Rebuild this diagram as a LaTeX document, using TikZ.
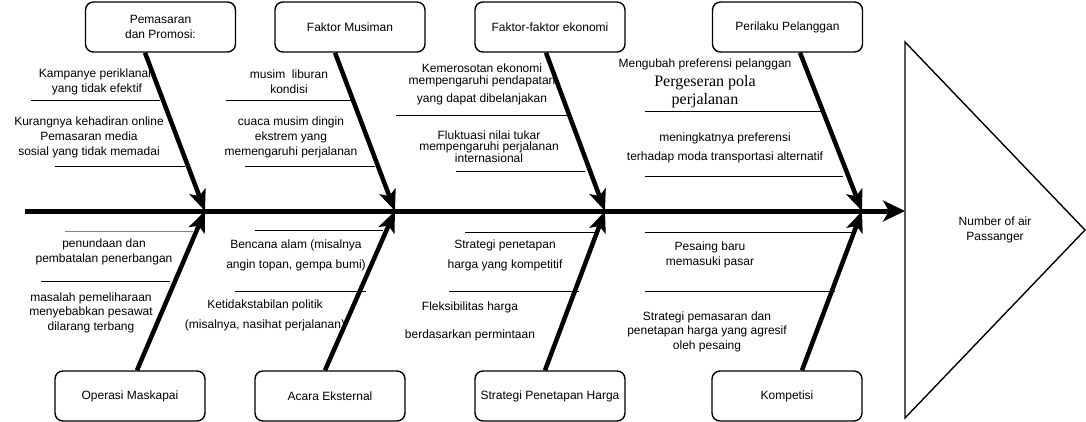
\documentclass[tikz,border=0pt]{standalone}
\usepackage{fontspec}
\setmainfont{Liberation Sans}
\newfontfamily\polafont{Liberation Serif}
\usetikzlibrary{arrows.meta}

\begin{document}
\begin{tikzpicture}[x=1pt,y=-1pt,
   font=\fontsize{12}{15}\selectfont,
   cause/.style={draw,line width=1.4pt,rounded corners=8pt,minimum width=150pt,minimum height=50pt,align=center,inner sep=2pt},
   bone/.style={line width=4.5pt,-{Stealth[length=21pt,width=17pt,inset=5pt]}},
   rib/.style={line width=0.8pt},
   note/.style={align=center,inner sep=0pt}]
   \useasboundingbox (0,0) rectangle (1086,422);

   % head of the fish
   \draw[line width=1.4pt] (905,42) -- (1085,230) -- (905,418) -- cycle;
   \node[note] (effect) at (995,230) {Number of air\\Passanger};
   \coordinate (tail) at (25,211);
   \coordinate (head) at (905,211);
   \draw[line width=5pt,-{Stealth[length=22pt,width=21pt,inset=6pt]}] (tail) -- (head);
   \foreach \n/\x in {1/205,2/395,3/605,4/862}
     \coordinate (t\n) at (\x,211);

   % causes above the spine
   \begin{scope}
     \node[cause] (pemasaran) at (160.5,27) {Pemasaran\\dan Promosi:};
     \node[cause] (musiman) at (350,27) {Faktor Musiman};
     \node[cause] (ekonomi) at (550,27) {Faktor-faktor ekonomi};
     \node[cause] (perilaku) at (787.5,27) {Perilaku Pelanggan};
     \draw[bone] ([xshift=-15.5pt]pemasaran.south) -- (t1);
     \draw[bone] ([xshift=-15pt]musiman.south) -- (t2);
     \draw[bone] ([xshift=-4pt]ekonomi.south) -- (t3);
     \draw[bone] ([xshift=12.5pt]perilaku.south) -- (t4);

     \draw[rib] (31,100) -- (160,100);
     \draw[rib] (55,166) -- (185,166);
     \node[note] (kampanye) at (97,81.5) {Kampanye periklanan\\yang tidak efektif};
     \node[note] (online) at (89,137) {Kurangnya kehadiran online\\Pemasaran media\\sosial yang tidak memadai};

     \draw[rib] (226,100) -- (352,100);
     \draw[rib] (245,166) -- (375,166);
     \node[note] (liburan) at (289,81.5) {musim\ \ liburan\\kondisi};
     \node[note] (cuaca) at (291,137) {cuaca musim dingin\\ekstrem yang\\memengaruhi perjalanan};

     \draw[rib] (396,115) -- (567,115);
     \draw[rib] (456,171) -- (585,171);
     \node[note,font=\fontsize{12}{12}\selectfont] (kemerosotan) at (482,84) {Kemerosotan ekonomi\\mempengaruhi pendapatan\\[6pt]yang dapat dibelanjakan};
     \node[note,font=\fontsize{12}{11}\selectfont] (kurs) at (489,147) {Fluktuasi nilai tukar\\mempengaruhi perjalanan\\internasional};

     \draw[rib] (645,111) -- (822,111);
     \draw[rib] (645,176) -- (843,176);
     \node[note] (preferensi) at (705,64) {Mengubah preferensi pelanggan};
     \node[note,font=\polafont\fontsize{16}{18}\selectfont] (pola) at (705,92) {Pergeseran pola\\perjalanan};
     \node[note] (moda) at (725,147.5) {meningkatnya preferensi\\[4pt]terhadap moda transportasi alternatif};
   \end{scope}

   % causes below the spine
   \begin{scope}
     \node[cause] (operasi) at (130,396) {Operasi Maskapai};
     \node[cause] (acara) at (330,396) {Acara Eksternal};
     \node[cause] (harga) at (550,396) {Strategi Penetapan Harga};
     \node[cause] (kompetisi) at (787,396) {Kompetisi};
     \draw[bone] ([xshift=7pt]operasi.north) -- (t1);
     \draw[bone] ([xshift=-5pt]acara.north) -- (t2);
     \draw[bone] ([xshift=-5pt]harga.north) -- (t3);
     \draw[bone] ([xshift=15pt]kompetisi.north) -- (t4);

     \draw[rib,gray] (65,231) -- (193,231);
     \draw[rib] (41,281) -- (170,281);
     \node[note] (penundaan) at (104,251.5) {penundaan dan\\pembatalan penerbangan};
     \node[note,font=\fontsize{12}{14.5}\selectfont] (pemeliharaan) at (91,312.5) {masalah pemeliharaan\\menyebabkan pesawat\\dilarang terbang};

     \draw[rib] (255,230) -- (383,230);
     \draw[rib] (235,291) -- (366,291);
     \node[note] (bencana) at (296,255) {Bencana alam (misalnya\\[5pt]angin topan, gempa bumi)};
     \node[note] (politik) at (265,315) {Ketidakstabilan politik\\[5pt](misalnya, nasihat perjalanan)};

     \draw[rib] (465,232) -- (597,232);
     \draw[rib] (449,291) -- (579,291);
     \node[note] (kompetitif) at (505,255) {Strategi penetapan\\[5pt]harga yang kompetitif};
     \node[note] (fleksibel) at (470,321) {Fleksibilitas harga\\[13pt]berdasarkan permintaan};

     \draw[rib] (645,232) -- (853,232);
     \draw[rib] (645,291) -- (835,291);
     \node[note] (pesaing) at (710,254.5) {Pesaing baru\\memasuki pasar};
     \node[note,font=\fontsize{12}{14.5}\selectfont] (agresif) at (707,331.5) {Strategi pemasaran dan\\penetapan harga yang agresif\\oleh pesaing};
   \end{scope}
\end{tikzpicture}
\end{document}
